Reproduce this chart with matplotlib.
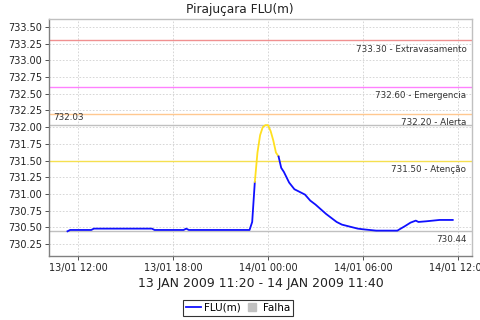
import matplotlib
matplotlib.use("Agg")
import matplotlib.pyplot as plt
import matplotlib.dates as mdates
from matplotlib.lines import Line2D
import pandas as pd
import numpy as np

# --- data ---
blue1_times = ["2009-01-13 11:20", "2009-01-13 11:30", "2009-01-13 12:50", "2009-01-13 13:00",
               "2009-01-13 16:40", "2009-01-13 16:50", "2009-01-13 18:40", "2009-01-13 18:50",
               "2009-01-13 19:00", "2009-01-13 22:50", "2009-01-13 23:00", "2009-01-13 23:10"]
blue1_vals = [730.44, 730.46, 730.46, 730.48, 730.48, 730.46, 730.46, 730.48,
              730.46, 730.46, 730.58, 731.18]

yellow_times = ["2009-01-13 23:10", "2009-01-13 23:20", "2009-01-13 23:30", "2009-01-13 23:40",
                "2009-01-13 23:50", "2009-01-14 00:00", "2009-01-14 00:10", "2009-01-14 00:20",
                "2009-01-14 00:30", "2009-01-14 00:40"]
yellow_vals = [731.18, 731.62, 731.88, 732.00, 732.03, 732.03, 731.94, 731.80, 731.62, 731.56]

blue2_times = ["2009-01-14 00:40", "2009-01-14 00:50", "2009-01-14 01:00", "2009-01-14 01:20",
               "2009-01-14 01:40", "2009-01-14 02:00", "2009-01-14 02:20", "2009-01-14 02:40",
               "2009-01-14 03:00", "2009-01-14 03:20", "2009-01-14 03:40", "2009-01-14 04:00",
               "2009-01-14 04:20", "2009-01-14 04:40", "2009-01-14 05:10", "2009-01-14 05:40",
               "2009-01-14 06:00", "2009-01-14 06:50", "2009-01-14 07:40", "2009-01-14 08:10",
               "2009-01-14 08:40", "2009-01-14 09:00", "2009-01-14 09:20", "2009-01-14 09:30",
               "2009-01-14 10:00", "2009-01-14 10:50", "2009-01-14 11:40"]
blue2_vals = [731.56, 731.39, 731.33, 731.17, 731.07, 731.03, 730.99, 730.90,
              730.84, 730.77, 730.70, 730.64, 730.58, 730.54, 730.51, 730.48,
              730.47, 730.45, 730.45, 730.45, 730.52, 730.57, 730.60, 730.58,
              730.59, 730.61, 730.61]

ref_values = [733.30, 732.60, 732.20, 731.50]
ref_labels = ["733.30 - Extravasamento", "732.60 - Emergencia", "732.20 - Alerta", "731.50 - Atenção"]
ref_colors = ["#f09090", "#ff80ff", "#ffc890", "#f5e050"]
max_value = 732.03
min_value = 730.44

title = "Pirajuçara FLU(m)"
xlabel = "13 JAN 2009 11:20 - 14 JAN 2009 11:40"

# --- plot ---
fig = plt.figure(figsize=(4.8, 3.2), dpi=100)
ax = fig.add_axes([49/480, 1-256/320, (472-49)/480, (256-19)/320])

ax.set_xlim(pd.Timestamp("2009-01-13 10:10"), pd.Timestamp("2009-01-14 12:53"))
ax.set_ylim(730.07, 733.62)

ax.grid(True, color="#d0d0d0", linestyle=(0, (2, 2)), linewidth=0.6)
ax.set_axisbelow(True)

for v, lab, c in zip(ref_values, ref_labels, ref_colors):
    ax.axhline(v, color=c, linewidth=1.0, zorder=2)
    ax.annotate(lab, xy=(1, v), xycoords=("axes fraction", "data"),
                xytext=(-4, -3), textcoords="offset points", ha="right", va="top",
                fontsize=6.3, color="#333333")

ax.axhline(max_value, color="#c0c0c0", linewidth=1.0, zorder=2)
ax.annotate(f"{max_value:.2f}", xy=(0, max_value), xycoords=("axes fraction", "data"),
            xytext=(3, 2), textcoords="offset points", ha="left", va="bottom",
            fontsize=6.3, color="#333333")
ax.axhline(min_value, color="#c0c0c0", linewidth=1.0, zorder=2)
ax.annotate(f"{min_value:.2f}", xy=(1, min_value), xycoords=("axes fraction", "data"),
            xytext=(-4, -3), textcoords="offset points", ha="right", va="top",
            fontsize=6.3, color="#333333")

ax.plot(pd.to_datetime(blue1_times), blue1_vals, color="#1010ff", linewidth=1.3, zorder=4)
ax.plot(pd.to_datetime(yellow_times), yellow_vals, color="#ffe020", linewidth=1.3, zorder=4)
ax.plot(pd.to_datetime(blue2_times), blue2_vals, color="#1010ff", linewidth=1.3, zorder=4)

ax.yaxis.set_major_locator(plt.MultipleLocator(0.25))
ax.yaxis.set_major_formatter(plt.FormatStrFormatter("%.2f"))
ax.xaxis.set_major_locator(mdates.HourLocator(byhour=[0, 6, 12, 18]))
ax.xaxis.set_major_formatter(mdates.DateFormatter("%d/%m %H:%M"))

ax.tick_params(axis="both", labelsize=7, colors="#333333", length=3, width=0.6,
               direction="out")
ax.tick_params(axis="x", pad=2)
ax.tick_params(axis="y", pad=2)
for lab in ax.get_xticklabels() + ax.get_yticklabels():
    lab.set_color("#222222")

for side in ["left", "bottom"]:
    ax.spines[side].set_color("#808080")
    ax.spines[side].set_linewidth(1.0)
for side in ["top", "right"]:
    ax.spines[side].set_color("#c0c0c0")
    ax.spines[side].set_linewidth(1.0)

fig.text(0.5, 1-9/320, title, ha="center", va="center", fontsize=8.7, color="#222222")
fig.text(260.5/480, 1-283/320, xlabel, ha="center", va="center", fontsize=9, color="#222222")

handles = [Line2D([0], [0], color="#1010ff", linewidth=1.3),
           Line2D([0], [0], marker="s", color="none", markerfacecolor="#c0c0c0",
                  markeredgecolor="#c0c0c0", markersize=6)]
leg = fig.legend(handles, ["FLU(m)", "Falha"], loc="center", bbox_to_anchor=(238/480, 1-308/320),
                 ncol=2, fontsize=7.5, frameon=True, fancybox=False, handlelength=1.4,
                 handletextpad=0.3, columnspacing=0.4, borderpad=0.3, borderaxespad=0)
leg.get_frame().set_edgecolor("black")
leg.get_frame().set_linewidth(0.8)

fig.savefig("out.png", dpi=100)
